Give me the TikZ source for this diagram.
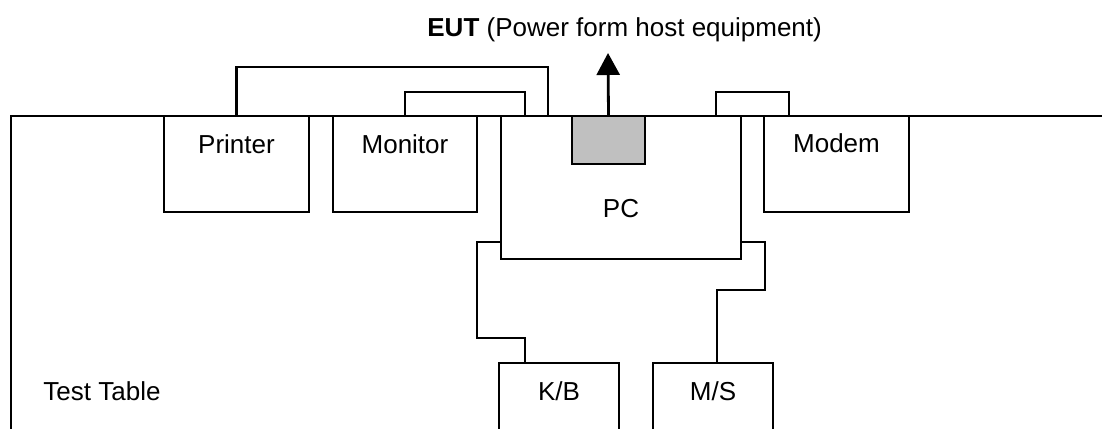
\documentclass[tikz,border=0pt]{standalone}
\usepackage{fontspec}
\setmainfont{Liberation Sans}
\usetikzlibrary{arrows.meta}
\definecolor{eutgray}{HTML}{C0C0C0}
\begin{document}
\begin{tikzpicture}[x=1pt,y=-1pt,line width=2.8pt,line join=miter,
  box/.style={draw,rectangle,line width=2.8pt,inner sep=0pt,outer sep=0pt,anchor=north west},
  lbl/.style={anchor=base,inner sep=0pt,font=\fontsize{26}{30}\selectfont}]
\useasboundingbox (0,0) rectangle (1102,428);
\clip (0,0) rectangle (1102,428);
% test table outline
\draw (11,440) -- (11,116) -- (1102,116);
% boxes
\node[box,minimum width=145pt,minimum height=96pt] (printer) at (164,116) {};
\node[box,minimum width=144pt,minimum height=96pt] (monitor) at (333,116) {};
\node[box,minimum width=240pt,minimum height=143pt] (pc) at (501,116) {};
\node[box,minimum width=145pt,minimum height=96pt] (modem) at (764,116) {};
\node[box,fill=eutgray,minimum width=73pt,minimum height=48pt] (eut) at (572,116) {};
\node[box,minimum width=120pt,minimum height=90pt] (kb) at (499,363) {};
\node[box,minimum width=120pt,minimum height=90pt] (ms) at (653,363) {};
% labels
\node[lbl] (lprinter) at (236.5,153) {Printer};
\node[lbl] (lmonitor) at (405,153) {Monitor};
\node[lbl] (lpc) at (621,217) {PC};
\node[lbl] (lmodem) at (836.5,152) {Modem};
\node[lbl] (lkb) at (559,400) {K/B};
\node[lbl] (lms) at (713,400) {M/S};
\node[lbl,anchor=base west] (ltable) at (42,400) {Test Table};
\node[lbl,anchor=base west] (ltitle) at (426,37) {\textbf{EUT} (Power form host equipment)};
% arrow
\coordinate (tip) at (608,53);
\draw[-{Triangle[width=23pt,length=22pt]}] (eut.north) -- (tip);
% cables
\coordinate (pcA) at (548,116);
\coordinate (pcB) at (525,116);
\coordinate (pcC) at (716,116);
\coordinate (mdA) at (789,116);
\coordinate (pcL) at (501,242);
\coordinate (pcR) at (741,242);
\coordinate (kbT) at (525,363);
\coordinate (msT) at (717,363);
\draw (printer.north) |- (548,67) -- (pcA);
\draw (monitor.north) |- (525,92) -- (pcB);
\draw (pcC) |- (789,92) -- (mdA);
\draw (pcL) -- (477,242) |- (525,338) -- (kbT);
\draw (pcR) -- (765,242) |- (717,290) -- (msT);
\end{tikzpicture}
\end{document}
